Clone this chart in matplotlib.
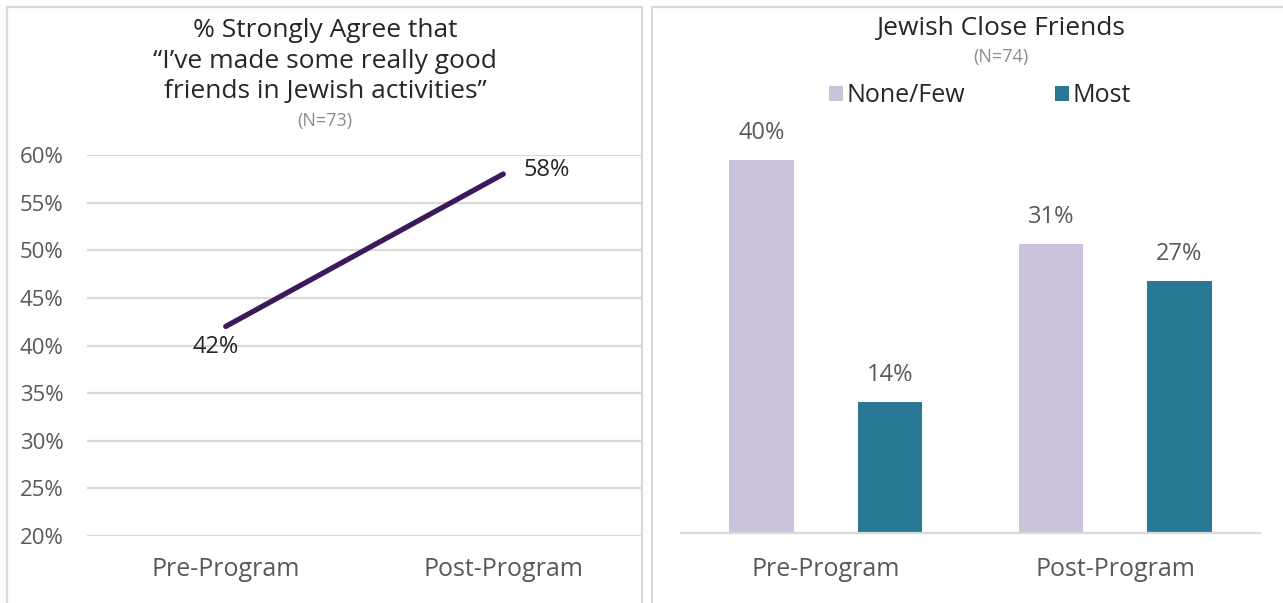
import matplotlib.pyplot as plt
from matplotlib.patches import Rectangle

plt.rcParams['font.family'] = ['Open Sans', 'DejaVu Sans']

# 数据
periods = ['Pre-Program', 'Post-Program']
strongly_agree = [42, 58]
none_few = [40, 31]
most = [14, 27]
y_ticks = [20, 25, 30, 35, 40, 45, 50, 55, 60]

left_title = '% Strongly Agree that\n\u201cI\u2019ve made some really good\nfriends in Jewish activities\u201d'
left_n = '(N=73)'
right_title = 'Jewish Close Friends'
right_n = '(N=74)'

# 颜色
line_color = '#3B1A5C'
few_color = '#CBC3DB'
most_color = '#287896'
grid_color = '#D9D9D9'
text_dark = '#262626'
text_grey = '#595959'

W, H = 1283, 603
fig = plt.figure(figsize=(W / 100, H / 100), dpi=100)

# 面板边框
fig.patches.append(Rectangle((7 / W, -0.05), (642 - 7) / W, 1.05 - 7 / H,
                             transform=fig.transFigure, fill=False,
                             edgecolor=grid_color, linewidth=1.6))
fig.patches.append(Rectangle((652 / W, -0.05), 1.0, 1.05 - 7 / H,
                             transform=fig.transFigure, fill=False,
                             edgecolor=grid_color, linewidth=1.6))

# 左图：折线
ax1 = fig.add_axes([87 / W, 1 - 536 / H, (642 - 87) / W, 381 / H])
x = [0, 1]
ax1.plot(x, strongly_agree, color=line_color, linewidth=3.8, solid_capstyle='round')
ax1.set_xlim(-0.5, 1.5)
ax1.set_ylim(20, 60)
ax1.set_yticks(y_ticks)
ax1.set_yticklabels([f'{v}%' for v in y_ticks])
ax1.set_xticks(x)
ax1.set_xticklabels(periods)
ax1.yaxis.grid(True, color=grid_color, linewidth=1.6)
ax1.set_axisbelow(True)
for s in ax1.spines.values():
    s.set_visible(False)
ax1.tick_params(axis='y', length=0, pad=17, labelsize=16, labelcolor=text_grey)
ax1.tick_params(axis='x', length=0, pad=15, labelsize=18, labelcolor=text_grey)

ax1.annotate(f'{strongly_agree[0]}%', (0, strongly_agree[0]), xytext=(-10, -21),
             textcoords='offset pixels', ha='center', va='center', fontsize=17, color=text_dark)
ax1.annotate(f'{strongly_agree[1]}%', (1, strongly_agree[1]), xytext=(43, 4),
             textcoords='offset pixels', ha='center', va='center', fontsize=17, color=text_dark)

fig.text(325 / W, 1 - 61 / H, left_title, ha='center', va='center', fontsize=19,
         color=text_dark, linespacing=1.3)
fig.text(325 / W, 1 - 121 / H, left_n, ha='center', va='center', fontsize=13, color='#8C8C8C')

# 右图：柱状
ax2 = fig.add_axes([681 / W, 1 - 533 / H, 579 / W, 413 / H])
bw = 0.224
off = 0.222
b1 = ax2.bar([i - off for i in x], none_few, width=bw, color=few_color, label='None/Few')
b2 = ax2.bar([i + off for i in x], most, width=bw, color=most_color, label='Most')
ax2.set_xlim(-0.5, 1.5)
ax2.set_ylim(0, 44.3)
ax2.set_yticks([])
ax2.set_xticks(x)
ax2.set_xticklabels(periods)
for k, s in ax2.spines.items():
    s.set_visible(k == 'bottom')
ax2.spines['bottom'].set_color(grid_color)
ax2.spines['bottom'].set_linewidth(1.6)
ax2.tick_params(axis='x', length=0, pad=17, labelsize=18, labelcolor=text_grey)

for bars, vals in [(b1, none_few), (b2, most)]:
    for r, v in zip(bars, vals):
        ax2.annotate(f'{v}%', (r.get_x() + r.get_width() / 2, v), xytext=(0, 27),
                     textcoords='offset pixels', ha='center', va='center',
                     fontsize=17, color=text_grey)

fig.text(1001 / W, 1 - 28 / H, right_title, ha='center', va='center', fontsize=19, color=text_dark)
fig.text(1001 / W, 1 - 57 / H, right_n, ha='center', va='center', fontsize=13, color='#8C8C8C')
fig.legend(handles=[b1, b2], loc='center', bbox_to_anchor=(980 / W, 1 - 96 / H),
           ncol=2, frameon=False, fontsize=18, handlelength=0.55, handleheight=0.55,
           handletextpad=0.15, columnspacing=3.6, labelcolor=text_dark)

plt.savefig('out.png', dpi=100)
plt.close()
